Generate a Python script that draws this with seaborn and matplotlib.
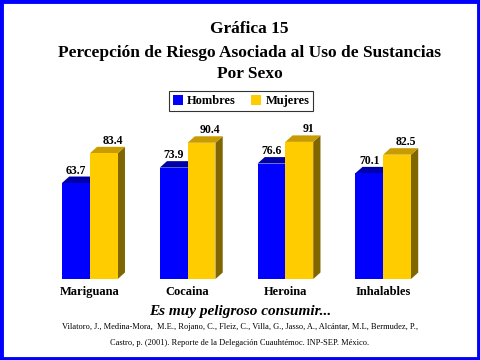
import matplotlib
matplotlib.use("Agg")
import matplotlib.pyplot as plt
import seaborn as sns
import pandas as pd
from matplotlib.patches import Polygon, Rectangle, Patch

categorias = ["Mariguana", "Cocaina", "Heroina", "Inhalables"]
hombres = [63.7, 73.9, 76.6, 70.1]
mujeres = [83.4, 90.4, 91, 82.5]
series = ["Hombres", "Mujeres"]
etiquetas_valor_h = ["63.7", "73.9", "76.6", "70.1"]
etiquetas_valor_m = ["83.4", "90.4", "91", "82.5"]

df = pd.DataFrame({
    "cat": categorias * 2,
    "val": hombres + mujeres,
    "sexo": [series[0]] * 4 + [series[1]] * 4,
})

front = {"Hombres": "#0000FF", "Mujeres": "#FFCC00"}
top = {"Hombres": "#0000A8", "Mujeres": "#C89B00"}
side = {"Hombres": "#000080", "Mujeres": "#806600"}
label_shift = {"Hombres": 0.0, "Mujeres": 0.09}

sns.set_style("white")
plt.rcParams["font.family"] = ["Liberation Serif", "DejaVu Serif"]
plt.rcParams["text.color"] = "black"

fig = plt.figure(figsize=(4.8, 3.6), dpi=100)
fig.patch.set_facecolor("white")
fig.patches.append(Rectangle((0.003, 0.004), 0.994, 0.992, transform=fig.transFigure,
                             fill=False, edgecolor="#0000FF", linewidth=3.5))

ax = fig.add_axes([41 / 480, 81 / 360, 391 / 480, 150.7 / 360])
sns.barplot(data=df, x="cat", y="val", hue="sexo", palette=front, width=0.57,
            saturation=1, legend=False, ax=ax, linewidth=0, order=categorias,
            hue_order=series)
ax.set_xlim(-0.5, 3.5)
ax.set_ylim(0, 100)
ax.axis("off")

# 3D depth (data units: ~7 px right, ~6.5 px up)
dx = 0.074
dy = 4.3
hsets = {}
for p in list(ax.patches):
    c = p.get_facecolor()
    key = "Hombres" if c[2] > 0.5 else "Mujeres"
    hsets.setdefault(key, []).append(p)

for key, zb in (("Hombres", 2), ("Mujeres", 3)):
    plist = sorted(hsets[key], key=lambda p: p.get_x())
    labs = etiquetas_valor_h if key == "Hombres" else etiquetas_valor_m
    for p, lab in zip(plist, labs):
        x0, w, h = p.get_x(), p.get_width(), p.get_height()
        p.set_zorder(zb + 0.2)
        sidep = Polygon([(x0 + w, 0), (x0 + w + dx, dy), (x0 + w + dx, h + dy), (x0 + w, h)],
                        closed=True, facecolor=side[key], edgecolor="none", zorder=zb)
        topp = Polygon([(x0, h), (x0 + dx, h + dy), (x0 + w + dx, h + dy), (x0 + w, h)],
                       closed=True, facecolor=top[key], edgecolor="none", zorder=zb + 0.1)
        ax.add_patch(sidep)
        ax.add_patch(topp)
        ax.text(x0 + w / 2 + label_shift[key], h + dy + 2.0, lab, ha="center", va="baseline",
                fontsize=8.5, fontweight="bold", clip_on=False, zorder=5)

for i, c in enumerate(categorias):
    ax.text(i, -4.5, c, ha="center", va="top", fontsize=9, fontweight="bold",
            clip_on=False)

fig.text(0.52, 1 - 29 / 360, "Gráfica 15", ha="center", va="center", fontsize=12.5,
         fontweight="bold")
fig.text(0.52, 1 - 53 / 360, "Percepción de Riesgo Asociada al Uso de Sustancias", ha="center",
         va="center", fontsize=12.5, fontweight="bold")
fig.text(0.52, 1 - 74 / 360, "Por Sexo", ha="center", va="center", fontsize=12.5,
         fontweight="bold")

handles = [Patch(facecolor=front[s], edgecolor="none") for s in series]
leg = fig.legend(handles, series, loc="center", bbox_to_anchor=(241 / 480, 1 - 101 / 360),
                 ncol=2, frameon=True, fancybox=False, prop={"weight": "bold", "size": 9},
                 handlelength=0.8, handleheight=0.8, handletextpad=0.35, columnspacing=1.2,
                 borderpad=0.3, borderaxespad=0)
leg.get_frame().set_edgecolor("black")
leg.get_frame().set_linewidth(0.8)

fig.text(0.5, 1 - 311 / 360, "Es muy peligroso consumir...", ha="center", va="center",
         fontsize=11, fontweight="bold", style="italic")
fig.text(0.5, 1 - 327 / 360,
         "Vilatoro, J., Medina-Mora,  M.E., Rojano, C., Fleiz, C., Villa, G., Jasso, A., Alcántar, M.L, Bermudez, P.,",
         ha="center", va="center", fontsize=6)
fig.text(0.5, 1 - 343 / 360,
         "Castro, p. (2001). Reporte de la Delegación Cuauhtémoc. INP-SEP. México.",
         ha="center", va="center", fontsize=6)

fig.savefig("out.png", dpi=100)
